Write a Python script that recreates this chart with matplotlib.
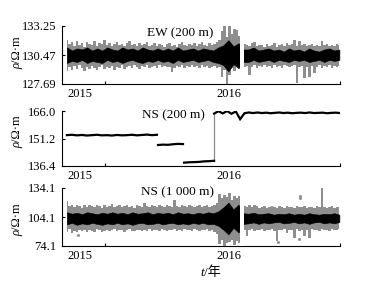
import numpy as np
import matplotlib
matplotlib.use("Agg")
import matplotlib.pyplot as plt

plt.rcParams["font.family"] = ["Liberation Serif", "Noto Sans CJK SC"]
plt.rcParams["font.size"] = 9

# ---------------------------------------------------------------------------
# data; sample times are fractional years
# ---------------------------------------------------------------------------
T_START, T_END = 2014.916, 2016.738   # first / last sample
N_FINE = 110                           # outer envelope samples
N_CORE = 55                            # dense core band samples
GAP = (2016.076, 2016.097)             # recording gap (no data)

# EW (200 m): outer envelope (max / min) per sample
EW_HI = [131.9, 131.5, 131.7, 131.3, 131.8, 131.4, 131.6, 131.2, 131.7, 131.5,
         131.4, 131.8, 131.3, 131.6, 131.5, 131.9, 131.4, 131.6, 131.3, 131.5,
         131.7, 131.4, 131.5, 131.3, 131.6, 131.8, 131.4, 131.5, 131.3, 131.6,
         131.4, 131.5, 131.7, 131.3, 131.4, 131.6, 131.3, 131.5, 131.4, 131.2,
         131.5, 131.6, 131.3, 131.4, 131.2, 131.5, 131.7, 131.4, 131.3, 131.5,
         131.4, 131.6, 131.3, 131.5, 131.7, 131.4, 131.3, 131.6, 131.4, 131.5,
         131.7, 131.9, 132.8, 133.25, 132.2, 133.25, 132.5, 133.0, 132.9, 132.3,
         131.5, 131.5, 131.4, 131.3, 131.6, 131.75, 131.3, 131.4, 131.4, 131.2,
         131.5, 131.3, 131.4, 131.6, 131.2, 131.4, 131.5, 131.3, 131.6, 131.4,
         131.5, 131.9, 131.3, 131.8, 131.4, 131.5, 131.3, 131.4, 131.5, 131.3,
         131.4, 131.3, 131.8, 131.4, 131.5, 131.3, 131.4, 131.3, 131.5, 131.4]
EW_LO = [128.9, 129.3, 129.0, 129.4, 129.1, 129.5, 129.2, 128.9, 129.3, 129.1,
         129.4, 129.2, 129.0, 129.3, 129.5, 129.1, 129.3, 129.2, 129.4, 129.0,
         129.3, 129.2, 129.5, 129.1, 129.3, 129.4, 129.2, 129.5, 129.3, 129.1,
         129.4, 129.3, 129.5, 129.2, 129.3, 129.4, 129.2, 129.5, 129.3, 129.4,
         129.3, 129.3, 128.8, 129.2, 129.4, 129.3, 129.5, 129.2, 129.4, 129.3,
         129.5, 129.3, 129.4, 129.2, 129.5, 129.3, 129.4, 129.2, 129.3, 129.4,
         129.2, 129.3, 128.4, 129.0, 127.7, 128.6, 129.2, 128.9, 129.4, 129.6,
         129.3, 129.3, 129.4, 128.55, 129.3, 129.5, 129.2, 129.4, 129.3, 129.5,
         129.3, 129.4, 129.2, 129.5, 129.3, 129.4, 129.2, 129.5, 129.4, 129.3,
         129.4, 129.5, 127.8, 129.3, 129.4, 128.3, 129.3, 128.4, 129.4, 128.7,
         129.3, 129.5, 129.2, 129.4, 129.3, 129.5, 129.2, 129.4, 129.3, 129.4]
EW_CORE_HI = [131.2, 130.9, 131.1, 131.0, 131.2, 130.9, 131.1, 130.9, 131.2, 131.0,
              130.9, 131.2, 131.0, 131.1, 130.9, 131.2, 131.0, 130.9, 131.1, 130.9,
              131.1, 130.9, 131.2, 130.9, 131.0, 131.1, 130.9, 131.1, 131.0, 130.9,
              131.2, 131.4, 131.9, 131.3, 131.6, 131.0, 131.0, 131.2, 130.9, 131.0,
              131.1, 130.9, 131.0, 130.8, 131.1, 130.9, 131.0, 130.8, 131.1, 130.9,
              130.8, 131.0, 131.1, 130.9, 131.0]
EW_CORE_LO = [129.7, 129.9, 129.8, 130.0, 129.7, 129.9, 129.8, 129.7, 130.0, 129.8,
              129.9, 129.7, 129.9, 130.0, 129.8, 129.7, 129.9, 129.8, 130.0, 129.8,
              129.9, 129.7, 130.0, 129.8, 129.9, 130.0, 129.8, 129.9, 130.0, 129.8,
              129.7, 129.5, 128.9, 129.6, 129.2, 129.8, 129.8, 130.0, 129.8, 129.9,
              130.0, 129.8, 130.0, 129.9, 129.8, 130.0, 129.9, 130.0, 129.8, 129.9,
              130.0, 129.8, 130.0, 129.9, 130.0]

# NS (200 m): four level segments
NS2_SEG_T = [(2014.916, 2015.518), (2015.525, 2015.692), (2015.699, 2015.900),
             (2015.900, 2016.742)]
NS2_SEG_V = [
    [153.0, 153.2, 152.9, 153.1, 152.8, 153.0, 153.2, 152.9, 153.0, 152.8,
     153.1, 152.9, 153.0, 153.2, 152.9, 153.1, 153.3, 153.0, 153.2],
    [147.7, 147.9, 147.8, 148.1, 148.3, 148.2],
    [138.2, 138.4, 138.5, 138.6, 138.9, 139.0, 139.2],
    [164.6, 165.9, 164.7, 166.0, 164.5, 165.8, 161.6, 164.8, 165.2, 164.9,
     165.2, 164.9, 165.1, 164.8, 165.0, 165.2, 164.9, 165.1, 164.8, 165.0,
     165.1, 164.9, 165.2, 164.9, 165.0, 165.1, 164.8, 165.0, 165.1, 164.9],
]

# NS (1 000 m)
N1K_HI = [120.6, 115.5, 117.0, 114.0, 116.5, 115.0, 113.5, 116.0, 114.5, 117.0,
          115.0, 114.0, 116.5, 115.5, 113.5, 116.0, 114.5, 115.0, 117.5, 114.0,
          115.5, 116.0, 114.0, 115.0, 116.5, 114.5, 115.5, 113.5, 116.0, 115.0,
          114.5, 118.6, 115.0, 114.0, 116.0, 115.5, 114.5, 116.5, 115.0, 114.0,
          116.0, 115.0, 114.5, 122.0, 115.5, 114.0, 116.5, 115.0, 114.5, 116.0,
          115.0, 114.0, 115.5, 116.5, 114.5, 115.0, 116.0, 114.0, 115.5, 117.0,
          119.0, 128.0, 124.0, 127.0, 125.0, 129.0, 122.0, 126.0, 124.0, 126.0,
          115.0, 115.0, 114.0, 116.0, 114.5, 116.8, 115.0, 113.5, 114.5, 115.0,
          113.4, 114.0, 115.5, 114.0, 113.5, 115.0, 114.5, 113.5, 115.0, 114.0,
          114.5, 113.5, 115.0, 114.0, 114.5, 115.5, 113.5, 114.0, 114.5, 113.5,
          115.0, 114.0, 134.1, 114.5, 113.5, 114.0, 115.0, 113.5, 114.5, 114.0]
N1K_LO = [89.0, 91.5, 87.5, 90.0, 88.5, 91.0, 89.5, 90.5, 88.5, 91.0,
          90.0, 89.0, 91.5, 90.5, 88.5, 90.0, 91.0, 89.5, 90.5, 91.5,
          89.5, 90.5, 91.0, 89.0, 90.5, 91.5, 90.0, 89.5, 91.0, 90.5,
          89.5, 91.0, 90.0, 91.5, 89.5, 90.5, 91.0, 90.0, 91.5, 90.5,
          89.5, 91.0, 90.5, 91.5, 90.0, 91.0, 89.5, 91.5, 90.5, 91.0,
          90.0, 91.5, 90.5, 89.5, 91.0, 90.5, 91.5, 90.0, 91.0, 89.0,
          86.0, 76.0, 80.0, 74.1, 77.0, 78.0, 80.0, 75.0, 79.0, 77.0,
          91.0, 91.0, 84.0, 90.5, 91.5, 90.0, 91.0, 90.5, 91.5, 90.0,
          91.0, 90.5, 91.5, 90.0, 79.0, 91.0, 90.5, 91.5, 87.5, 91.0,
          90.5, 82.4, 91.5, 90.0, 91.0, 84.1, 90.5, 82.0, 91.5, 90.5,
          91.0, 90.0, 91.5, 90.5, 91.0, 90.0, 91.5, 91.0, 90.5, 91.5]
N1K_CORE_HI = [109.0, 107.5, 108.5, 107.0, 109.0, 108.0, 107.0, 108.5, 107.5, 109.0,
               107.5, 108.5, 107.0, 109.0, 107.5, 108.0, 109.0, 107.0, 108.5, 107.5,
               108.5, 107.0, 109.0, 107.5, 108.0, 107.0, 108.5, 107.5, 109.0, 108.0,
               110.0, 114.0, 119.0, 112.0, 117.0, 108.0, 107.5, 108.5, 107.0, 107.5,
               108.0, 106.5, 107.5, 107.0, 108.0, 106.5, 107.5, 106.5, 108.0, 107.0,
               106.5, 107.5, 107.0, 108.0, 106.5]
N1K_CORE_LO = [96.5, 98.0, 96.0, 97.5, 96.5, 98.0, 97.0, 96.0, 97.5, 96.5,
               98.0, 96.5, 97.5, 96.0, 97.5, 98.0, 96.5, 97.0, 98.0, 96.5,
               97.5, 98.0, 96.5, 97.5, 96.5, 98.0, 97.0, 98.0, 96.5, 97.0,
               95.0, 91.0, 86.0, 93.0, 88.0, 97.0, 97.5, 98.5, 97.0, 98.5,
               97.5, 98.5, 99.0, 97.5, 98.0, 99.0, 97.5, 98.5, 97.0, 98.5,
               99.0, 97.5, 98.5, 97.5, 99.0]
N1K_DOT_T = [2014.990, 2016.330, 2016.466, 2016.475, 2016.475]
N1K_DOT_V = [85.5, 78.6, 81.3, 125.5, 123.8]

# axis ticks
YTICKS = [[127.69, 130.47, 133.25], [136.4, 151.2, 166.0], [74.1, 104.1, 134.1]]
YFMT = ["{:.2f}", "{:.1f}", "{:.1f}"]
XLIM = (2014.883, 2016.742)
YEARS = [2015, 2016]
TITLES = ["EW (200 m)", "NS (200 m)", "NS (1 000 m)"]

GREY = "#8c8c8c"
W, H = 372, 281


def style(ax, yticks, fmt):
    ax.set_xlim(*XLIM)
    ax.set_ylim(yticks[0], yticks[-1])
    for s in ("top", "right"):
        ax.spines[s].set_visible(False)
    for s in ("left", "bottom"):
        ax.spines[s].set_linewidth(0.8)
    ax.set_yticks(yticks)
    ax.set_yticklabels([fmt.format(v) for v in yticks])
    ax.set_xticks(YEARS)
    ax.set_xticklabels([str(y) for y in YEARS])
    ax.set_xticks([2015.17, XLIM[1]], minor=True)
    ax.tick_params(axis="y", direction="in", length=2.5, width=0.8, pad=4,
                   labelsize=9)
    ax.tick_params(axis="x", which="major", length=0, pad=3, labelsize=9)
    ax.tick_params(axis="x", which="minor", direction="in", length=2.5, width=0.8)


def noisy_panel(ax, hi, lo, chi, clo):
    t = np.linspace(T_START, T_END, N_FINE)
    tc = np.linspace(T_START, T_END, N_CORE)
    ax.fill_between(t, lo, hi, step="mid", color="#8e8e8e", lw=0, zorder=1)
    ax.fill_between(tc, clo, chi, color="black", lw=0.4, zorder=2)
    ax.axvspan(*GAP, color="white", lw=0, zorder=3)


def px(x, y):
    return x / W, 1 - y / H


fig = plt.figure(figsize=(W / 100, H / 100), dpi=100)
fig.patch.set_facecolor("white")

boxes = [(26, 84), (111, 166), (188, 246)]   # top / bottom pixel of each axes
axes = []
for top, bot in boxes:
    ax = fig.add_axes([62 / W, 1 - bot / H, 278 / W, (bot - top) / H])
    axes.append(ax)

# panel 1
noisy_panel(axes[0], EW_HI, EW_LO, EW_CORE_HI, EW_CORE_LO)

# panel 2
ax = axes[1]
for (t0, t1), vals in zip(NS2_SEG_T, NS2_SEG_V):
    ax.plot(np.linspace(t0, t1, len(vals)), vals, color="black", lw=1.6,
            solid_joinstyle="miter", zorder=2)
ax.plot([NS2_SEG_T[2][1], NS2_SEG_T[3][0]], [NS2_SEG_V[2][-1], NS2_SEG_V[3][0]],
        color=GREY, lw=0.9, zorder=1)

# panel 3
noisy_panel(axes[2], N1K_HI, N1K_LO, N1K_CORE_HI, N1K_CORE_LO)
axes[2].plot(N1K_DOT_T, N1K_DOT_V, ls="none", marker="s", ms=1.0, color=GREY)

title_x = [0.424, 0.400, 0.417]
title_y = [0.88, 0.93, 0.93]
for ax, ticks, fmt, title, tx, ty in zip(axes, YTICKS, YFMT, TITLES, title_x, title_y):
    style(ax, ticks, fmt)
    ax.text(tx, ty, title, transform=ax.transAxes, ha="center", va="center",
            fontsize=9.5, zorder=5)

# y labels: italic rho + "/Ω·m", rotated
for yc in (53, 132, 220):
    xs, ys = px(17.5, yc + 10)
    fig.text(xs, ys, "ρ", rotation=90, ha="center", va="top", style="italic",
             fontsize=9)
    fig.text(xs, ys, "/Ω·m", rotation=90, ha="center", va="bottom", fontsize=9)

# x label: italic t + "/年"
xs, ys = px(204, 272.5)
fig.text(xs, ys, "t", ha="right", va="center", style="italic", fontsize=9.5)
fig.text(xs, ys, "/年", ha="left", va="center", fontsize=9.5)

fig.savefig("out.png", dpi=100, facecolor="white")
